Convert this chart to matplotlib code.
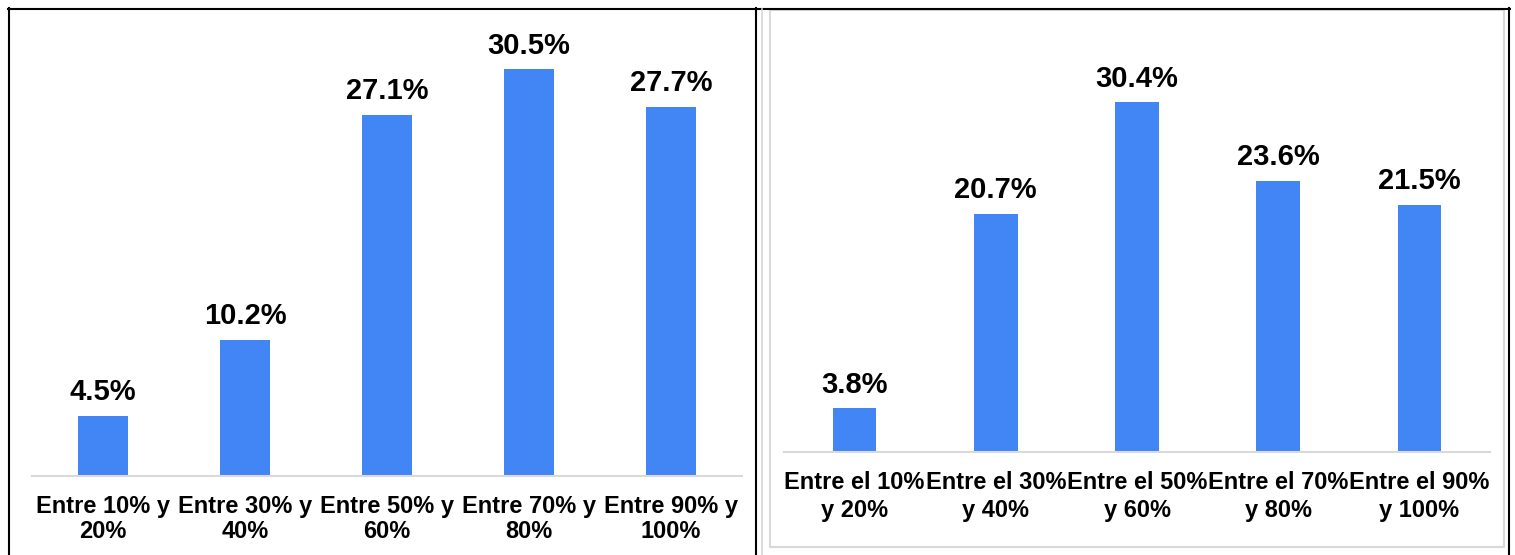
import matplotlib.pyplot as plt
from matplotlib.lines import Line2D
from matplotlib.patches import Rectangle

plt.rcParams['font.family'] = ['Liberation Sans', 'DejaVu Sans']

left_labels = ["Entre 10% y\n20%", "Entre 30% y\n40%", "Entre 50% y\n60%",
               "Entre 70% y\n80%", "Entre 90% y\n100%"]
left_values = [4.5, 10.2, 27.1, 30.5, 27.7]

right_labels = ["Entre el 10%\ny 20%", "Entre el 30%\ny 40%", "Entre el 50%\ny 60%",
                "Entre el 70%\ny 80%", "Entre el 90%\ny 100%"]
right_values = [3.8, 20.7, 30.4, 23.6, 21.5]

BLUE = "#4285F4"
W, H = 1515, 555

fig = plt.figure(figsize=(W / 100, H / 100), dpi=100)


def px_axes(x0, x1, y_base, y_top):
    # pixel box (from top-left) -> figure fraction
    return fig.add_axes([x0 / W, 1 - y_base / H, (x1 - x0) / W, (y_base - y_top) / H])


def draw_bars(ax, labels, values, ymax, width, spacing):
    x = range(len(values))
    bars = ax.bar(x, values, width=width, color=BLUE)
    ax.set_xlim(-0.5, len(values) - 0.5)
    ax.set_ylim(0, ymax)
    ax.set_xticks(list(x))
    ax.set_xticklabels(labels, fontsize=17, fontweight='bold', linespacing=spacing)
    ax.tick_params(axis='x', length=0, pad=14)
    ax.set_yticks([])
    for s in ['top', 'left', 'right']:
        ax.spines[s].set_visible(False)
    ax.spines['bottom'].set_color("#d9d9d9")
    ax.spines['bottom'].set_linewidth(1.5)
    for b, v in zip(bars, values):
        ax.annotate(f"{v:.1f}%", (b.get_x() + b.get_width() / 2, v),
                    xytext=(0, 7), textcoords='offset points',
                    ha='center', va='bottom', fontsize=21, fontweight='bold')


ax1 = px_axes(32, 742, 476, 476 - 35 * 13.33)
draw_bars(ax1, left_labels, left_values, 35, 0.352, 1.1)

ax2 = px_axes(784, 1490, 452, 452 - 36 * 11.5)
draw_bars(ax2, right_labels, right_values, 36, 0.31, 1.25)


def fline(x0, y0, x1, y1, color, lw):
    fig.add_artist(Line2D([x0 / W, x1 / W], [1 - y0 / H, 1 - y1 / H],
                          transform=fig.transFigure, color=color, linewidth=lw))


# table borders
fline(8, 8.5, 1510, 8.5, "black", 1.5)
fline(8.5, 8, 8.5, 560, "black", 1.5)
fline(1509, 8, 1509, 560, "black", 1.5)
fline(756, 8, 756, 560, "black", 1.5)
fline(762, 9, 762, 560, "#d6d6d6", 1.2)
fig.add_artist(Rectangle((770 / W, 1 - 547 / H), (1504 - 770) / W, (547 - 10) / H,
                         transform=fig.transFigure, fill=False,
                         edgecolor="#d9d9d9", linewidth=1.5))

fig.savefig("out.png", dpi=100)
